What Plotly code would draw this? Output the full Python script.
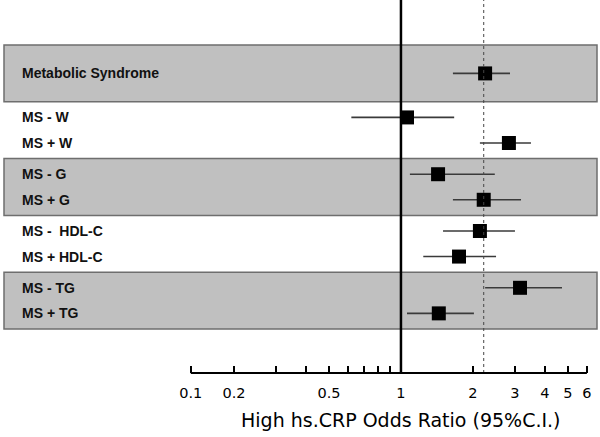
import math
import plotly.graph_objects as go

# ---- data ----
labels = ["Metabolic Syndrome", "MS - W", "MS + W", "MS - G", "MS + G",
          "MS -  HDL-C", "MS + HDL-C", "MS - TG", "MS + TG"]
odds_ratio = [2.25, 1.06, 2.83, 1.43, 2.22, 2.14, 1.75, 3.15, 1.44]
ci_low = [1.65, 0.62, 2.14, 1.09, 1.65, 1.50, 1.24, 2.25, 1.06]
ci_high = [2.86, 1.67, 3.50, 2.47, 3.18, 3.00, 2.50, 4.72, 2.02]
# group index of each row and whether group is shaded
row_group = [0, 1, 1, 2, 2, 3, 3, 4, 4]
group_shaded = [True, False, True, False, True]
reference_or = 1.0
overall_or = 2.22
tick_vals = [0.132, 0.2, 0.3, 0.4, 0.5, 0.6, 0.7, 0.8, 0.9, 1, 2, 3, 4, 5, 6]
tick_text = ["0.1", "0.2", "", "", "0.5", "", "", "", "", "1", "2", "3", "4", "5", "6"]
x_title = "High hs.CRP Odds Ratio (95%C.I.)"

# ---- row positions (2 units per group) ----
y_pos = []
for i, g in enumerate(row_group):
    n_in_group = row_group.count(g)
    if n_in_group == 1:
        y_pos.append(2 * g + 1.0)
    else:
        first = row_group.index(g)
        y_pos.append(2 * g + (0.55 if i == first else 1.45))

fig = go.Figure()

# CI lines
for y, lo, hi in zip(y_pos, ci_low, ci_high):
    fig.add_trace(go.Scatter(x=[lo, hi], y=[y, y], mode="lines",
                             line=dict(color="#3a3a3a", width=1.6),
                             hoverinfo="skip", showlegend=False))
# point estimates
fig.add_trace(go.Scatter(x=odds_ratio, y=y_pos, mode="markers",
                         marker=dict(symbol="square", size=14, color="black",
                                     line=dict(width=0)),
                         showlegend=False))

shapes = []
for g, shaded in enumerate(group_shaded):
    if shaded:
        shapes.append(dict(type="rect", xref="paper", yref="y",
                           x0=4 / 600, x1=597 / 600, y0=2 * g, y1=2 * g + 2,
                           fillcolor="#c0c0c0", line=dict(color="#6e6e6e", width=1.5),
                           layer="below"))
# reference line at OR = 1
shapes.append(dict(type="line", xref="x", yref="paper", x0=reference_or, x1=reference_or,
                   y0=0, y1=1, line=dict(color="black", width=2.5)))
# dashed line at overall OR
shapes.append(dict(type="line", xref="x", yref="paper", x0=overall_or, x1=overall_or,
                   y0=0, y1=1, line=dict(color="#444444", width=1, dash="dot")))
# axis line
shapes.append(dict(type="line", xref="x", yref="paper", x0=tick_vals[0], x1=tick_vals[-1],
                   y0=0, y1=0, line=dict(color="black", width=2)))

annotations = []
for lab, y in zip(labels, y_pos):
    annotations.append(dict(x=20 / 600, xref="paper", y=y, yref="y", text=lab,
                            showarrow=False, xanchor="left", yanchor="middle",
                            font=dict(family="Liberation Sans, Arial", size=14,
                                      color="#111111", weight="bold")))
annotations.append(dict(x=math.log10(reference_or), xref="x", y=0, yref="paper",
                        yshift=-34, text=x_title, showarrow=False, xanchor="center",
                        yanchor="top",
                        font=dict(family="DejaVu Sans", size=19, color="black")))

fig.update_layout(
    width=600, height=437,
    margin=dict(l=0, r=0, t=0, b=64),
    paper_bgcolor="white", plot_bgcolor="white",
    shapes=shapes, annotations=annotations,
    xaxis=dict(type="log", range=[-1.678, 0.833], tickvals=tick_vals, ticktext=tick_text,
               ticks="inside", ticklen=7, tickwidth=2, tickcolor="black",
               ticklabelstandoff=9,
               showline=False, showgrid=False, zeroline=False,
               tickfont=dict(family="DejaVu Sans", size=14.5, color="black")),
    yaxis=dict(range=[11.55, -1.585], showticklabels=False, showgrid=False,
               zeroline=False, showline=False, ticks=""),
)

fig.write_html("out.html", config={"displayModeBar": False},
               post_script="document.body.style.margin='0';document.body.style.overflow='hidden';")
